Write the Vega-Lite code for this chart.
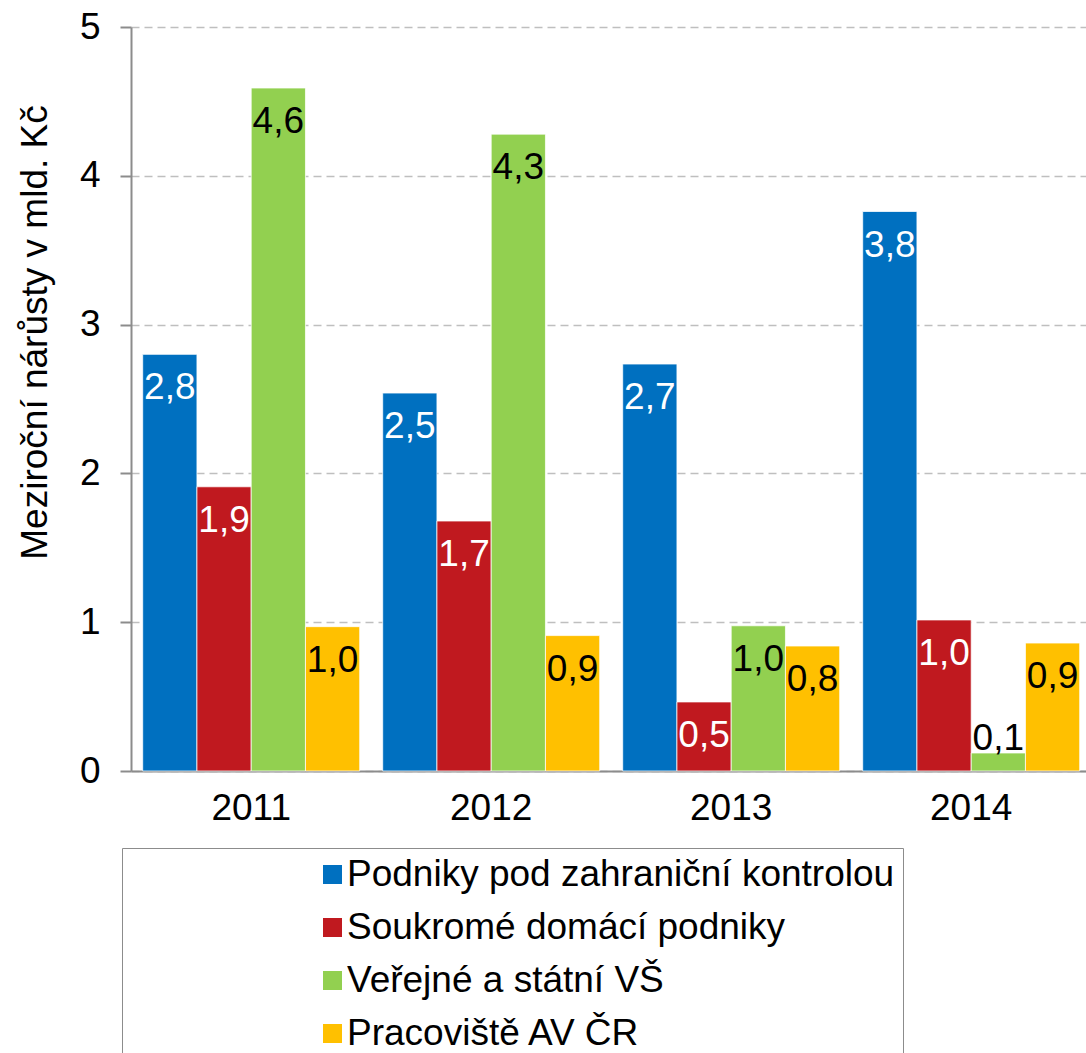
{
  "$schema": "https://vega.github.io/schema/vega-lite/v6.json",
  "width": 955,
  "height": 744,
  "autosize": {"type": "none"},
  "padding": {"left": 131, "top": 27, "right": 0, "bottom": 282},
  "background": "white",
  "config": {
    "font": "Liberation Sans",
    "view": {"stroke": null},
    "locale": {"number": {"decimal": ",", "thousands": " ", "grouping": [3], "currency": ["", " Kč"]}}
  },
  "data": {
    "values": [
      {"year": "2011", "series": "Podniky pod zahraniční kontrolou", "value": 2.80},
      {"year": "2011", "series": "Soukromé domácí podniky", "value": 1.91},
      {"year": "2011", "series": "Veřejné a státní VŠ", "value": 4.59},
      {"year": "2011", "series": "Pracoviště AV ČR", "value": 0.97},
      {"year": "2012", "series": "Podniky pod zahraniční kontrolou", "value": 2.54},
      {"year": "2012", "series": "Soukromé domácí podniky", "value": 1.68},
      {"year": "2012", "series": "Veřejné a státní VŠ", "value": 4.28},
      {"year": "2012", "series": "Pracoviště AV ČR", "value": 0.91},
      {"year": "2013", "series": "Podniky pod zahraniční kontrolou", "value": 2.735},
      {"year": "2013", "series": "Soukromé domácí podniky", "value": 0.464},
      {"year": "2013", "series": "Veřejné a státní VŠ", "value": 0.976},
      {"year": "2013", "series": "Pracoviště AV ČR", "value": 0.84},
      {"year": "2014", "series": "Podniky pod zahraniční kontrolou", "value": 3.76},
      {"year": "2014", "series": "Soukromé domácí podniky", "value": 1.015},
      {"year": "2014", "series": "Veřejné a státní VŠ", "value": 0.121},
      {"year": "2014", "series": "Pracoviště AV ČR", "value": 0.86}
    ]
  },
  "encoding": {
    "x": {
      "field": "year",
      "type": "nominal",
      "scale": {"paddingInner": 0.0958, "paddingOuter": 0.0375, "align": 0.65},
      "axis": {
        "title": null,
        "labelAngle": 0,
        "labelFontSize": 37,
        "labelColor": "black",
        "labelPadding": 19,
        "ticks": false,
        "tickSize": 0,
        "domainColor": "#8c8c8c",
        "domainWidth": 2,
        "grid": false
      }
    },
    "xOffset": {
      "field": "series",
      "type": "nominal",
      "scale": {
        "domain": ["Podniky pod zahraniční kontrolou", "Soukromé domácí podniky", "Veřejné a státní VŠ", "Pracoviště AV ČR"],
        "paddingInner": 0,
        "paddingOuter": 0
      }
    }
  },
  "layer": [
    {
      "mark": {"type": "bar", "stroke": "white", "strokeWidth": 0.75},
      "encoding": {
        "y": {
          "field": "value",
          "type": "quantitative",
          "scale": {"domain": [0, 5], "nice": false},
          "axis": {
            "values": [0, 1, 2, 3, 4, 5],
            "format": "d",
            "title": "Meziroční nárůsty v mld. Kč",
            "titleFontSize": 37,
            "titleFontWeight": "normal",
            "titleColor": "black",
            "titleAngle": -90,
            "titleBaseline": "middle",
            "titleAlign": "center",
            "titleX": -96,
            "titleY": 305,
            "labelFontSize": 37,
            "labelColor": "black",
            "labelPadding": 20,
            "domainColor": "#8c8c8c",
            "domainWidth": 2,
            "tickColor": "#8c8c8c",
            "tickWidth": 2,
            "tickSize": 11,
            "grid": true,
            "gridColor": "#bfbfbf",
            "gridDash": [8, 5],
            "gridWidth": 1.5
          }
        },
        "color": {
          "field": "series",
          "type": "nominal",
          "scale": {
            "domain": ["Podniky pod zahraniční kontrolou", "Soukromé domácí podniky", "Veřejné a státní VŠ", "Pracoviště AV ČR"],
            "range": ["#0070C0", "#C0191F", "#92D050", "#FFC000"]
          },
          "legend": {
            "orient": "none",
            "legendX": -9,
            "legendY": 821,
            "title": null,
            "direction": "vertical",
            "symbolType": "square",
            "symbolSize": 361,
            "symbolStrokeWidth": 0,
            "symbolOffset": 184,
            "labelOffset": -4,
            "labelFontSize": 37,
            "labelColor": "black",
            "labelLimit": 3000,
            "rowPadding": 15,
            "padding": 8,
            "strokeColor": "#8c8c8c"
          }
        }
      }
    },
    {
      "transform": [{"filter": "datum.value >= 0.3"}],
      "mark": {"type": "text", "baseline": "middle", "dy": 34, "fontSize": 37},
      "encoding": {
        "y": {"field": "value", "type": "quantitative"},
        "text": {"field": "value", "type": "quantitative", "format": ".1f"},
        "color": {
          "condition": {"test": "datum.series == 'Podniky pod zahraniční kontrolou' || datum.series == 'Soukromé domácí podniky'", "value": "white"},
          "value": "black"
        }
      }
    },
    {
      "transform": [{"filter": "datum.value < 0.3"}],
      "mark": {"type": "text", "baseline": "bottom", "dy": 5, "fontSize": 37},
      "encoding": {
        "y": {"field": "value", "type": "quantitative"},
        "text": {"field": "value", "type": "quantitative", "format": ".1f"},
        "color": {"value": "black"}
      }
    }
  ]
}
